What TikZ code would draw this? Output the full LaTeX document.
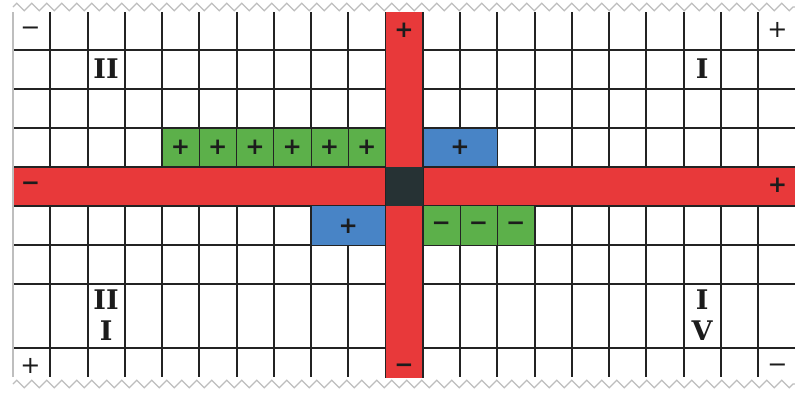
\documentclass[tikz,border=0pt]{standalone}
\usepackage{fontspec}
\setmainfont{DejaVu Sans}
\newfontfamily\romfont{DejaVu Serif}
\usetikzlibrary{decorations.pathmorphing}
\definecolor{bandred}{RGB}{232,57,58}
\definecolor{cellgreen}{RGB}{92,176,74}
\definecolor{cellblue}{RGB}{72,132,198}
\definecolor{centerdark}{RGB}{38,50,52}
\definecolor{gridline}{RGB}{35,35,35}
\definecolor{signink}{RGB}{28,28,28}
\definecolor{edgegray}{RGB}{190,190,190}
\begin{document}
\begin{tikzpicture}[x=1pt,y=-1pt,
  gridl/.style={draw=gridline, line width=2pt},
  cellbox/.style={draw=gridline, line width=1pt},
  bandedge/.style={draw=gridline, line width=1.8pt},
  wavy/.style={draw=edgegray, line width=1.3pt, decorate,
    decoration={zigzag, segment length=15pt, amplitude=3.8pt}},
  sign/.style={font=\bfseries\fontsize{23}{23}\selectfont, text=signink, inner sep=0pt},
  csign/.style={font=\fontsize{24}{24}\selectfont, text=signink, inner sep=0pt},
  roman/.style={font=\romfont\bfseries\fontsize{27}{31}\selectfont, align=center, inner sep=0pt, text=signink}]
\useasboundingbox (0,0) rectangle (795,392);
\fill[white] (0,0) rectangle (795,392);
% grid
\foreach \k in {1,...,20} \draw[gridl] ({13+\k*37.25},12) -- ({13+\k*37.25},377);
\foreach \y in {49.5,89,128,167,205.5,245,284,348} \draw[gridl] (13,\y) -- (795,\y);
\draw[edgegray, line width=1.3pt] (13,12) -- (13,377);
% coloured cells
\foreach \k in {4,...,9}
  \filldraw[fill=cellgreen, cellbox] ({13+\k*37.25},128) rectangle ({13+(\k+1)*37.25},167);
\foreach \k in {11,...,13}
  \filldraw[fill=cellgreen, cellbox] ({13+\k*37.25},205.5) rectangle ({13+(\k+1)*37.25},245);
\filldraw[fill=cellblue, cellbox] (422.75,128) rectangle (497.25,167);
\filldraw[fill=cellblue, cellbox] (311,205.5) rectangle (385.5,245);
% red bands
\fill[bandred] (14,167) rectangle (795,205.5);
\draw[bandedge] (14,167) -- (795,167);
\draw[bandedge] (14,205.5) -- (795,205.5);
\fill[bandred] (385.5,12) rectangle (422.75,377.5);
\draw[bandedge] (385.5,12) -- (385.5,377.5);
\draw[bandedge] (422.75,12) -- (422.75,377.5);
\fill[centerdark] (385.5,167) rectangle (422.75,205.5);
% wavy torn edges
\draw[wavy] (13,7) -- (795,7);
\draw[wavy] (13,384) -- (795,384);
% corner signs
\node[csign] (tl) at (30.5,31) {−};
\node[csign] (tr) at (777.5,30) {+};
\node[csign] (bl) at (30.5,366) {+};
\node[csign] (br) at (777.5,368) {−};
% band end signs
\node[sign] (vtop) at (404.1,30) {+};
\node[sign] (vbot) at (404.1,368.5) {−};
\node[sign] (hleft) at (30.5,186.5) {−};
\node[sign] (hright) at (777.5,185.5) {+};
% cell signs
\foreach \k in {4,...,9} \node[sign] (g\k) at ({13+(\k+0.5)*37.25},147.5) {+};
\foreach \k in {11,...,13} \node[sign] (m\k) at ({13+(\k+0.5)*37.25},226) {−};
\node[sign] (bu) at (460,147.5) {+};
\node[sign] (bd) at (348.2,226) {+};
% quadrant numerals
\node[roman] (q1) at (702.1,69) {I};
\node[roman] (q2) at (106.1,69) {II};
\node[roman] (q3) at (106.1,315.5) {II\\I};
\node[roman] (q4) at (702.1,315.5) {I\\V};
\end{tikzpicture}
\end{document}
